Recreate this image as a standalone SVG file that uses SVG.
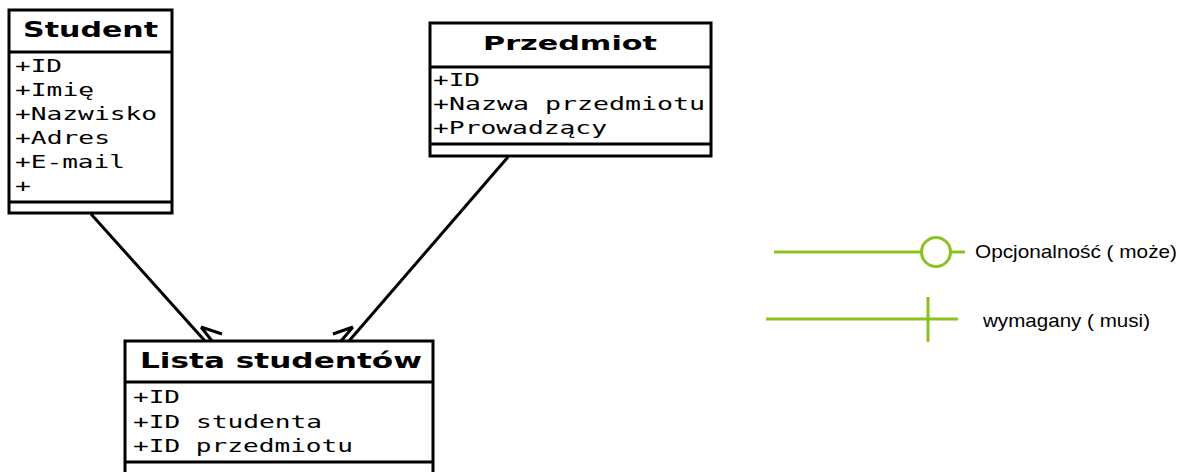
<svg xmlns="http://www.w3.org/2000/svg" width="1186" height="472" viewBox="0 0 1186 472">
<style>
.box{fill:#fff;stroke:#000;stroke-width:3}
.sep{stroke:#000;stroke-width:3}
.hd{font-family:"DejaVu Sans",sans-serif;font-weight:bold;fill:#000}
.at{font-family:"DejaVu Sans Mono",monospace;font-size:17px;fill:#000}
.conn{stroke:#000;stroke-width:3;fill:none}
.leg{stroke:#8cc21e;stroke-width:3;fill:none}
.lt{font-family:"Liberation Sans",Arial,sans-serif;font-size:19px;fill:#000}
</style>
<rect width="1186" height="472" fill="#fff"/>
<g id="student">
<rect class="box" x="9" y="10" width="163" height="203"/>
<line class="sep" x1="9" y1="52" x2="172" y2="52"/>
<line class="sep" x1="9" y1="202" x2="172" y2="202"/>
<text class="hd" x="23" y="37" font-size="22" textLength="135" lengthAdjust="spacingAndGlyphs">Student</text>
<text class="at" x="15" y="72" textLength="47" lengthAdjust="spacingAndGlyphs">+ID</text>
<text class="at" x="15" y="96" textLength="79" lengthAdjust="spacingAndGlyphs">+Imię</text>
<text class="at" x="15" y="120" textLength="142" lengthAdjust="spacingAndGlyphs">+Nazwisko</text>
<text class="at" x="15" y="144" textLength="95" lengthAdjust="spacingAndGlyphs">+Adres</text>
<text class="at" x="15" y="168" textLength="110" lengthAdjust="spacingAndGlyphs">+E-mail</text>
<text class="at" x="15" y="192" textLength="16" lengthAdjust="spacingAndGlyphs">+</text>
</g>
<g id="przedmiot">
<rect class="box" x="430" y="23" width="281" height="133"/>
<line class="sep" x1="430" y1="67" x2="711" y2="67"/>
<line class="sep" x1="430" y1="144" x2="711" y2="144"/>
<text class="hd" x="483" y="50" font-size="19" textLength="174" lengthAdjust="spacingAndGlyphs">Przedmiot</text>
<text class="at" x="433" y="86" textLength="47" lengthAdjust="spacingAndGlyphs">+ID</text>
<text class="at" x="433" y="110" textLength="272" lengthAdjust="spacingAndGlyphs">+Nazwa przedmiotu</text>
<text class="at" x="433" y="134" textLength="174" lengthAdjust="spacingAndGlyphs">+Prowadzący</text>
</g>
<g id="lista">
<rect class="box" x="125" y="341" width="308" height="140"/>
<line class="sep" x1="125" y1="382" x2="433" y2="382"/>
<line class="sep" x1="125" y1="462" x2="433" y2="462"/>
<text class="hd" x="140" y="368" font-size="21" textLength="282" lengthAdjust="spacingAndGlyphs">Lista studentów</text>
<text class="at" x="133" y="403" textLength="47" lengthAdjust="spacingAndGlyphs">+ID</text>
<text class="at" x="133" y="428" textLength="189" lengthAdjust="spacingAndGlyphs">+ID studenta</text>
<text class="at" x="133" y="452" textLength="220" lengthAdjust="spacingAndGlyphs">+ID przedmiotu</text>
</g>
<g id="connectors">
<path class="conn" d="M91 214 L205 341"/>
<path class="conn" d="M201 327 L222 334 M201 327 L212 341"/>
<path class="conn" d="M508 157 L349 341"/>
<path class="conn" d="M353 327 L333 334 M353 327 L341 341"/>
</g>
<g id="legend-optional">
<path class="leg" d="M774 252 H922 M951 252 H965"/>
<circle class="leg" cx="936" cy="252" r="14.5"/>
<text class="lt" x="975" y="258" textLength="202" lengthAdjust="spacingAndGlyphs">Opcjonalność ( może)</text>
</g>
<g id="legend-required">
<path class="leg" d="M766 319 H958 M928 297 V342"/>
<text class="lt" x="983" y="327" textLength="167" lengthAdjust="spacingAndGlyphs">wymagany ( musi)</text>
</g>
</svg>
